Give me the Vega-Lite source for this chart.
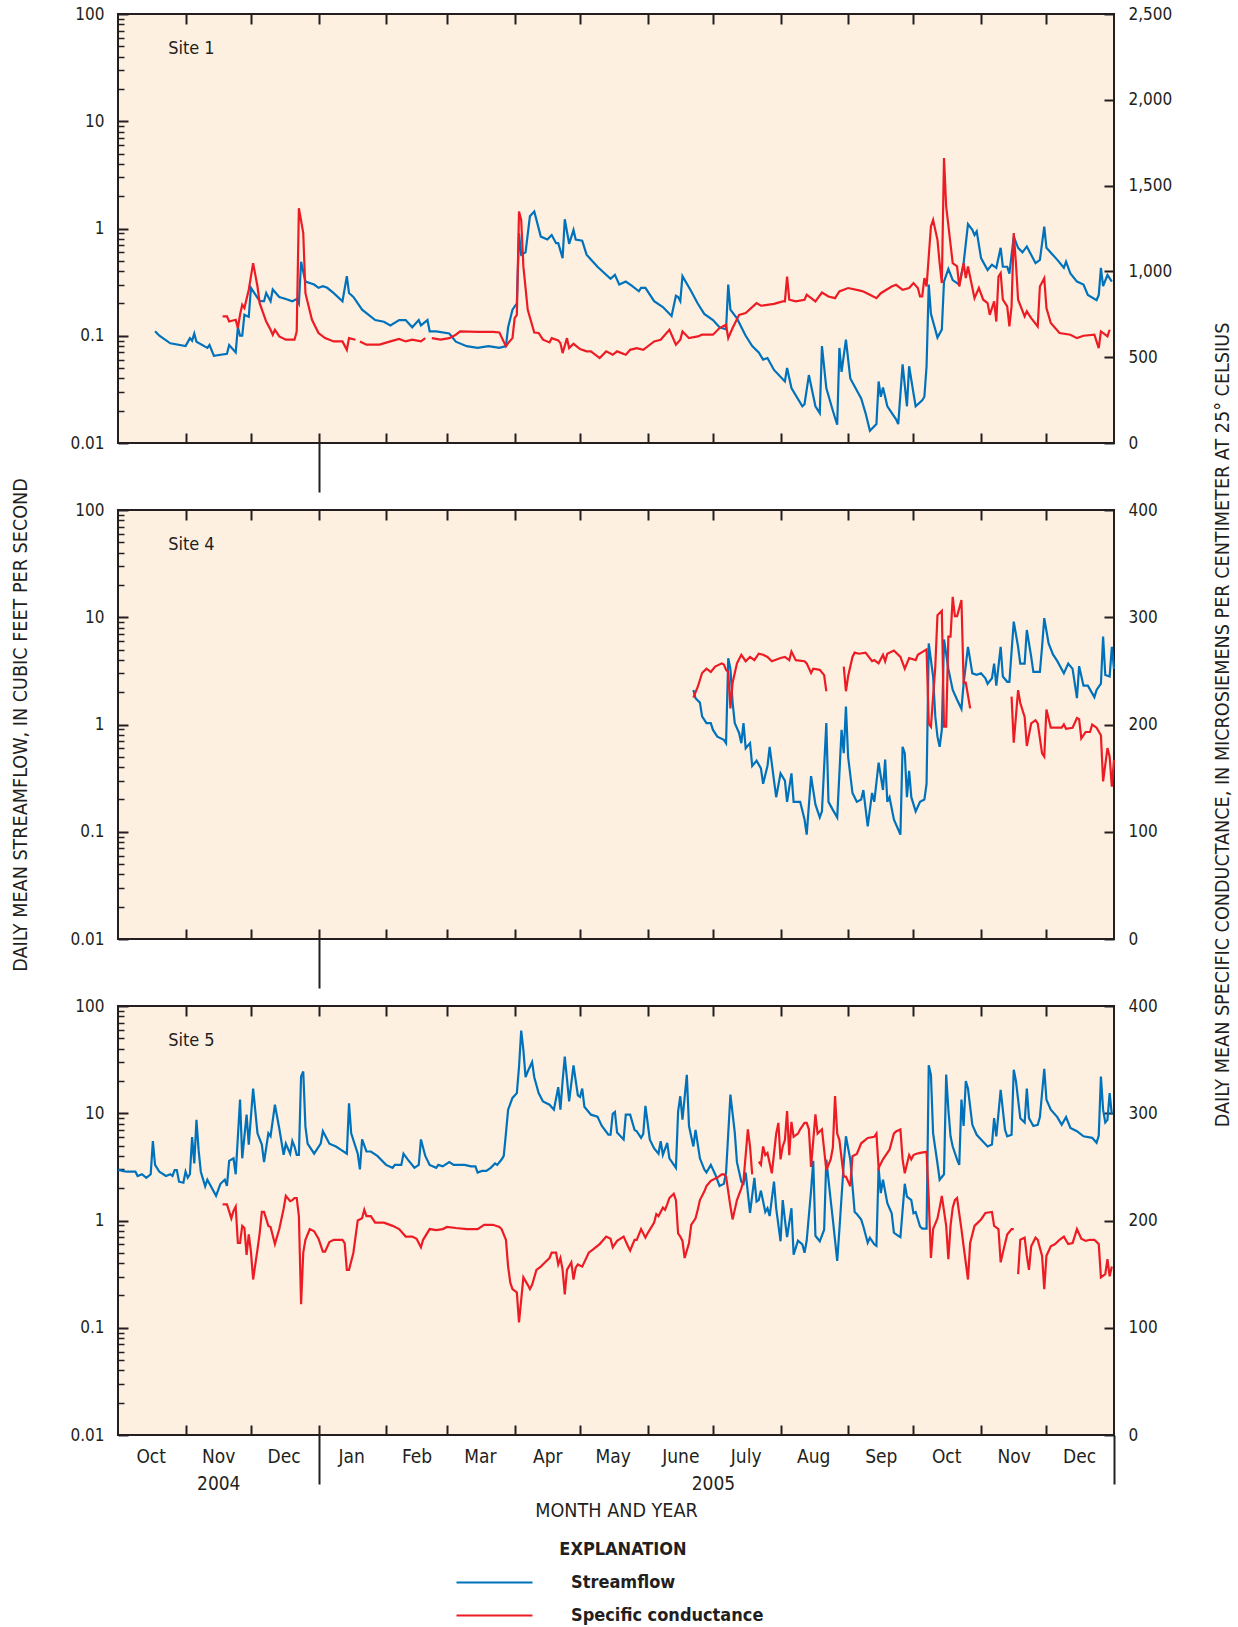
{
"$schema":"https://vega.github.io/schema/vega-lite/v6.json",
"background":"#ffffff",
"padding":{"left":8,"top":4,"right":4,"bottom":4},
"spacing":67,
"bounds":"flush",
"config":{
 "font":"Liberation Sans Narrow, DejaVu Sans Condensed, sans-serif",
 "view":{"fill":"#fdf0e0","stroke":"#231f20","strokeWidth":2},
 "axis":{"labelFont":"Liberation Sans Narrow, DejaVu Sans Condensed, sans-serif","labelFontSize":17,"labelColor":"#231f20","tickColor":"#231f20","tickWidth":2,"grid":false,"domain":false,"titleFont":"Liberation Sans Narrow, DejaVu Sans Condensed, sans-serif","titleFontSize":19.6,"titleFontWeight":"normal","titleColor":"#231f20","labelFlush":false,"labelOverlap":false},
 "legend":{"orient":"none","legendX":365,"legendY":1527,"direction":"vertical","symbolType":"M-3.8,0H3.8","symbolSize":400,"symbolStrokeWidth":2.4,"labelOffset":65,"labelFontSize":18,"labelFontWeight":"bold","labelFont":"Liberation Sans Narrow, DejaVu Sans Condensed, sans-serif","labelColor":"#231f20","titleFontSize":18,"titleFontWeight":"bold","titleFont":"Liberation Sans Narrow, DejaVu Sans Condensed, sans-serif","titleColor":"#231f20","titleAnchor":"middle","titlePadding":12,"rowPadding":12,"labelLimit":400},
 "line":{"strokeWidth":2.2},
 "text":{"font":"Liberation Sans Narrow, DejaVu Sans Condensed, sans-serif","fontSize":18,"color":"#231f20"}
},
"datasets":{
"site1_streamflow":[
{"date":"2004-10-18","value":0.11},{"date":"2004-10-20","value":0.1},{"date":"2004-10-25","value":0.085},{"date":"2004-11-01","value":0.08},{"date":"2004-11-03","value":0.095},{"date":"2004-11-04","value":0.09},{"date":"2004-11-05","value":0.105},{"date":"2004-11-06","value":0.088},{"date":"2004-11-11","value":0.077},{"date":"2004-11-12","value":0.082},{"date":"2004-11-14","value":0.065},{"date":"2004-11-20","value":0.068},{"date":"2004-11-21","value":0.082},{"date":"2004-11-24","value":0.07},{"date":"2004-11-25","value":0.12},{"date":"2004-11-26","value":0.1},{"date":"2004-11-27","value":0.1},{"date":"2004-11-28","value":0.157},{"date":"2004-11-30","value":0.15},{"date":"2004-12-01","value":0.28},{"date":"2004-12-05","value":0.21},{"date":"2004-12-07","value":0.21},{"date":"2004-12-08","value":0.25},{"date":"2004-12-10","value":0.21},{"date":"2004-12-11","value":0.27},{"date":"2004-12-14","value":0.23},{"date":"2004-12-17","value":0.22},{"date":"2004-12-20","value":0.21},{"date":"2004-12-22","value":0.22},{"date":"2004-12-23","value":0.2},{"date":"2004-12-24","value":0.49},{"date":"2004-12-26","value":0.32},{"date":"2004-12-30","value":0.3},{"date":"2005-01-01","value":0.28},{"date":"2005-01-03","value":0.29},{"date":"2005-01-05","value":0.28},{"date":"2005-01-08","value":0.25},{"date":"2005-01-12","value":0.21},{"date":"2005-01-14","value":0.36},{"date":"2005-01-15","value":0.25},{"date":"2005-01-17","value":0.23},{"date":"2005-01-21","value":0.175},{"date":"2005-01-27","value":0.14},{"date":"2005-01-31","value":0.135},{"date":"2005-02-03","value":0.125},{"date":"2005-02-07","value":0.14},{"date":"2005-02-10","value":0.14},{"date":"2005-02-13","value":0.12},{"date":"2005-02-16","value":0.14},{"date":"2005-02-17","value":0.125},{"date":"2005-02-20","value":0.14},{"date":"2005-02-21","value":0.11},{"date":"2005-02-24","value":0.11},{"date":"2005-03-02","value":0.105},{"date":"2005-03-05","value":0.088},{"date":"2005-03-10","value":0.08},{"date":"2005-03-15","value":0.077},{"date":"2005-03-20","value":0.08},{"date":"2005-03-25","value":0.077},{"date":"2005-03-28","value":0.08},{"date":"2005-03-29","value":0.12},{"date":"2005-03-31","value":0.175},{"date":"2005-04-02","value":0.2},{"date":"2005-04-03","value":0.9},{"date":"2005-04-04","value":0.57},{"date":"2005-04-06","value":0.6},{"date":"2005-04-08","value":1.3},{"date":"2005-04-10","value":1.44},{"date":"2005-04-13","value":0.84},{"date":"2005-04-16","value":0.79},{"date":"2005-04-18","value":0.87},{"date":"2005-04-20","value":0.73},{"date":"2005-04-21","value":0.73},{"date":"2005-04-23","value":0.53},{"date":"2005-04-24","value":1.22},{"date":"2005-04-26","value":0.72},{"date":"2005-04-28","value":0.97},{"date":"2005-04-29","value":0.79},{"date":"2005-05-02","value":0.77},{"date":"2005-05-04","value":0.57},{"date":"2005-05-09","value":0.44},{"date":"2005-05-15","value":0.34},{"date":"2005-05-17","value":0.37},{"date":"2005-05-19","value":0.3},{"date":"2005-05-22","value":0.32},{"date":"2005-05-25","value":0.29},{"date":"2005-05-28","value":0.26},{"date":"2005-05-29","value":0.28},{"date":"2005-05-31","value":0.28},{"date":"2005-06-04","value":0.21},{"date":"2005-06-08","value":0.185},{"date":"2005-06-12","value":0.153},{"date":"2005-06-14","value":0.236},{"date":"2005-06-15","value":0.23},{"date":"2005-06-16","value":0.21},{"date":"2005-06-17","value":0.36},{"date":"2005-06-21","value":0.26},{"date":"2005-06-24","value":0.2},{"date":"2005-06-27","value":0.16},{"date":"2005-07-01","value":0.14},{"date":"2005-07-04","value":0.12},{"date":"2005-07-07","value":0.115},{"date":"2005-07-08","value":0.3},{"date":"2005-07-09","value":0.175},{"date":"2005-07-12","value":0.145},{"date":"2005-07-16","value":0.1},{"date":"2005-07-19","value":0.08},{"date":"2005-07-22","value":0.07},{"date":"2005-07-24","value":0.06},{"date":"2005-07-26","value":0.062},{"date":"2005-07-29","value":0.048},{"date":"2005-08-03","value":0.0375},{"date":"2005-08-04","value":0.05},{"date":"2005-08-06","value":0.0325},{"date":"2005-08-11","value":0.022},{"date":"2005-08-12","value":0.023},{"date":"2005-08-14","value":0.043},{"date":"2005-08-17","value":0.022},{"date":"2005-08-19","value":0.019},{"date":"2005-08-20","value":0.08},{"date":"2005-08-22","value":0.0325},{"date":"2005-08-25","value":0.02},{"date":"2005-08-27","value":0.0148},{"date":"2005-08-28","value":0.077},{"date":"2005-08-29","value":0.046},{"date":"2005-08-31","value":0.092},{"date":"2005-09-02","value":0.04},{"date":"2005-09-07","value":0.026},{"date":"2005-09-09","value":0.019},{"date":"2005-09-11","value":0.013},{"date":"2005-09-14","value":0.015},{"date":"2005-09-15","value":0.0375},{"date":"2005-09-16","value":0.027},{"date":"2005-09-17","value":0.033},{"date":"2005-09-19","value":0.022},{"date":"2005-09-23","value":0.0166},{"date":"2005-09-24","value":0.015},{"date":"2005-09-26","value":0.054},{"date":"2005-09-28","value":0.022},{"date":"2005-09-29","value":0.052},{"date":"2005-10-01","value":0.029},{"date":"2005-10-02","value":0.022},{"date":"2005-10-05","value":0.025},{"date":"2005-10-06","value":0.027},{"date":"2005-10-07","value":0.052},{"date":"2005-10-08","value":0.3},{"date":"2005-10-09","value":0.16},{"date":"2005-10-11","value":0.114},{"date":"2005-10-12","value":0.096},{"date":"2005-10-14","value":0.114},{"date":"2005-10-15","value":0.32},{"date":"2005-10-17","value":0.42},{"date":"2005-10-19","value":0.33},{"date":"2005-10-22","value":0.3},{"date":"2005-10-24","value":0.475},{"date":"2005-10-26","value":1.1},{"date":"2005-10-28","value":0.97},{"date":"2005-10-29","value":0.87},{"date":"2005-10-30","value":0.94},{"date":"2005-11-01","value":0.53},{"date":"2005-11-04","value":0.41},{"date":"2005-11-06","value":0.46},{"date":"2005-11-08","value":0.43},{"date":"2005-11-10","value":0.66},{"date":"2005-11-11","value":0.44},{"date":"2005-11-13","value":0.44},{"date":"2005-11-14","value":0.38},{"date":"2005-11-16","value":0.84},{"date":"2005-11-18","value":0.66},{"date":"2005-11-20","value":0.6},{"date":"2005-11-22","value":0.68},{"date":"2005-11-26","value":0.475},{"date":"2005-11-28","value":0.51},{"date":"2005-11-30","value":1.04},{"date":"2005-12-01","value":0.66},{"date":"2005-12-06","value":0.51},{"date":"2005-12-09","value":0.43},{"date":"2005-12-10","value":0.49},{"date":"2005-12-12","value":0.38},{"date":"2005-12-15","value":0.32},{"date":"2005-12-18","value":0.3},{"date":"2005-12-20","value":0.24},{"date":"2005-12-24","value":0.215},{"date":"2005-12-25","value":0.24},{"date":"2005-12-26","value":0.43},{"date":"2005-12-27","value":0.29},{"date":"2005-12-29","value":0.37},{"date":"2005-12-31","value":0.32}
],
"site1_conductance":[
{"date":"2004-11-18","value":738},{"date":"2004-11-20","value":738},{"date":"2004-11-21","value":708},{"date":"2004-11-24","value":718},{"date":"2004-11-25","value":670},{"date":"2004-11-26","value":747},{"date":"2004-11-27","value":805},{"date":"2004-11-28","value":786},{"date":"2004-11-30","value":893},{"date":"2004-12-02","value":1048},{"date":"2004-12-04","value":912},{"date":"2004-12-05","value":815},{"date":"2004-12-08","value":708},{"date":"2004-12-10","value":660},{"date":"2004-12-11","value":631},{"date":"2004-12-12","value":660},{"date":"2004-12-14","value":621},{"date":"2004-12-17","value":602},{"date":"2004-12-19","value":602},{"date":"2004-12-21","value":602},{"date":"2004-12-22","value":650},{"date":"2004-12-23","value":1368},{"date":"2004-12-25","value":1223},{"date":"2004-12-26","value":873},{"date":"2004-12-29","value":718},{"date":"2005-01-01","value":641},{"date":"2005-01-04","value":611},{"date":"2005-01-08","value":592},{"date":"2005-01-12","value":592},{"date":"2005-01-14","value":543},{"date":"2005-01-15","value":611},{"date":"2005-01-18","value":602},{"date":"2005-01-19","value":null},{"date":"2005-01-20","value":592},{"date":"2005-01-23","value":573},{"date":"2005-01-29","value":573},{"date":"2005-02-03","value":592},{"date":"2005-02-07","value":606},{"date":"2005-02-10","value":592},{"date":"2005-02-13","value":602},{"date":"2005-02-17","value":592},{"date":"2005-02-19","value":611},{"date":"2005-02-20","value":null},{"date":"2005-02-22","value":611},{"date":"2005-02-26","value":602},{"date":"2005-03-02","value":611},{"date":"2005-03-05","value":631},{"date":"2005-03-07","value":650},{"date":"2005-03-15","value":648},{"date":"2005-03-22","value":648},{"date":"2005-03-25","value":644},{"date":"2005-03-28","value":563},{"date":"2005-03-29","value":582},{"date":"2005-03-31","value":611},{"date":"2005-04-01","value":728},{"date":"2005-04-02","value":747},{"date":"2005-04-03","value":1349},{"date":"2005-04-04","value":1300},{"date":"2005-04-05","value":1029},{"date":"2005-04-07","value":776},{"date":"2005-04-10","value":644},{"date":"2005-04-12","value":641},{"date":"2005-04-14","value":602},{"date":"2005-04-17","value":586},{"date":"2005-04-18","value":611},{"date":"2005-04-21","value":598},{"date":"2005-04-22","value":582},{"date":"2005-04-23","value":524},{"date":"2005-04-25","value":611},{"date":"2005-04-26","value":553},{"date":"2005-04-28","value":578},{"date":"2005-05-01","value":547},{"date":"2005-05-04","value":534},{"date":"2005-05-06","value":534},{"date":"2005-05-10","value":495},{"date":"2005-05-13","value":534},{"date":"2005-05-16","value":514},{"date":"2005-05-18","value":534},{"date":"2005-05-22","value":514},{"date":"2005-05-24","value":543},{"date":"2005-05-27","value":553},{"date":"2005-05-30","value":543},{"date":"2005-06-04","value":592},{"date":"2005-06-07","value":602},{"date":"2005-06-11","value":660},{"date":"2005-06-14","value":573},{"date":"2005-06-16","value":602},{"date":"2005-06-17","value":650},{"date":"2005-06-20","value":611},{"date":"2005-06-24","value":621},{"date":"2005-06-26","value":631},{"date":"2005-07-01","value":631},{"date":"2005-07-04","value":670},{"date":"2005-07-07","value":689},{"date":"2005-07-08","value":611},{"date":"2005-07-10","value":670},{"date":"2005-07-13","value":747},{"date":"2005-07-16","value":757},{"date":"2005-07-21","value":815},{"date":"2005-07-23","value":800},{"date":"2005-07-29","value":811},{"date":"2005-08-02","value":825},{"date":"2005-08-03","value":825},{"date":"2005-08-04","value":970},{"date":"2005-08-05","value":835},{"date":"2005-08-08","value":825},{"date":"2005-08-12","value":835},{"date":"2005-08-13","value":864},{"date":"2005-08-17","value":825},{"date":"2005-08-20","value":877},{"date":"2005-08-23","value":854},{"date":"2005-08-26","value":844},{"date":"2005-08-28","value":883},{"date":"2005-09-01","value":903},{"date":"2005-09-06","value":889},{"date":"2005-09-08","value":883},{"date":"2005-09-11","value":864},{"date":"2005-09-14","value":844},{"date":"2005-09-16","value":873},{"date":"2005-09-21","value":912},{"date":"2005-09-23","value":922},{"date":"2005-09-26","value":893},{"date":"2005-09-29","value":903},{"date":"2005-10-01","value":932},{"date":"2005-10-03","value":903},{"date":"2005-10-04","value":854},{"date":"2005-10-05","value":854},{"date":"2005-10-06","value":961},{"date":"2005-10-07","value":912},{"date":"2005-10-09","value":1262},{"date":"2005-10-10","value":1300},{"date":"2005-10-12","value":1184},{"date":"2005-10-13","value":1048},{"date":"2005-10-14","value":932},{"date":"2005-10-15","value":1660},{"date":"2005-10-16","value":1378},{"date":"2005-10-19","value":1048},{"date":"2005-10-21","value":1029},{"date":"2005-10-22","value":912},{"date":"2005-10-24","value":1048},{"date":"2005-10-25","value":961},{"date":"2005-10-26","value":1029},{"date":"2005-10-29","value":844},{"date":"2005-10-31","value":903},{"date":"2005-11-02","value":835},{"date":"2005-11-04","value":815},{"date":"2005-11-05","value":747},{"date":"2005-11-07","value":825},{"date":"2005-11-08","value":708},{"date":"2005-11-09","value":970},{"date":"2005-11-10","value":990},{"date":"2005-11-11","value":835},{"date":"2005-11-13","value":796},{"date":"2005-11-14","value":679},{"date":"2005-11-15","value":796},{"date":"2005-11-16","value":1223},{"date":"2005-11-17","value":1048},{"date":"2005-11-18","value":835},{"date":"2005-11-21","value":738},{"date":"2005-11-22","value":767},{"date":"2005-11-24","value":728},{"date":"2005-11-27","value":679},{"date":"2005-11-28","value":912},{"date":"2005-11-30","value":961},{"date":"2005-12-01","value":786},{"date":"2005-12-03","value":699},{"date":"2005-12-07","value":641},{"date":"2005-12-12","value":631},{"date":"2005-12-15","value":611},{"date":"2005-12-18","value":625},{"date":"2005-12-23","value":631},{"date":"2005-12-25","value":553},{"date":"2005-12-26","value":650},{"date":"2005-12-28","value":631},{"date":"2005-12-29","value":621},{"date":"2005-12-30","value":660}
],
"site4_streamflow":[
{"date":"2005-06-22","value":2.1},{"date":"2005-06-23","value":1.76},{"date":"2005-06-25","value":1.6},{"date":"2005-06-26","value":1.19},{"date":"2005-06-28","value":1.03},{"date":"2005-06-30","value":1.03},{"date":"2005-07-01","value":0.89},{"date":"2005-07-03","value":0.77},{"date":"2005-07-06","value":0.72},{"date":"2005-07-07","value":0.67},{"date":"2005-07-08","value":4.15},{"date":"2005-07-09","value":3.3},{"date":"2005-07-10","value":1.6},{"date":"2005-07-11","value":1.03},{"date":"2005-07-13","value":0.83},{"date":"2005-07-14","value":0.67},{"date":"2005-07-15","value":1.03},{"date":"2005-07-16","value":0.6},{"date":"2005-07-18","value":0.67},{"date":"2005-07-19","value":0.41},{"date":"2005-07-21","value":0.46},{"date":"2005-07-23","value":0.39},{"date":"2005-07-24","value":0.28},{"date":"2005-07-26","value":0.41},{"date":"2005-07-27","value":0.62},{"date":"2005-07-29","value":0.3},{"date":"2005-07-30","value":0.21},{"date":"2005-08-01","value":0.35},{"date":"2005-08-03","value":0.3},{"date":"2005-08-04","value":0.19},{"date":"2005-08-06","value":0.35},{"date":"2005-08-07","value":0.19},{"date":"2005-08-10","value":0.19},{"date":"2005-08-12","value":0.13},{"date":"2005-08-13","value":0.094},{"date":"2005-08-15","value":0.33},{"date":"2005-08-17","value":0.18},{"date":"2005-08-19","value":0.136},{"date":"2005-08-20","value":0.155},{"date":"2005-08-22","value":1.03},{"date":"2005-08-23","value":0.19},{"date":"2005-08-25","value":0.16},{"date":"2005-08-27","value":0.136},{"date":"2005-08-29","value":0.89},{"date":"2005-08-30","value":0.54},{"date":"2005-08-31","value":1.47},{"date":"2005-09-01","value":0.5},{"date":"2005-09-03","value":0.23},{"date":"2005-09-05","value":0.19},{"date":"2005-09-07","value":0.2},{"date":"2005-09-08","value":0.245},{"date":"2005-09-10","value":0.112},{"date":"2005-09-12","value":0.23},{"date":"2005-09-13","value":0.19},{"date":"2005-09-15","value":0.44},{"date":"2005-09-17","value":0.245},{"date":"2005-09-18","value":0.47},{"date":"2005-09-19","value":0.19},{"date":"2005-09-20","value":0.21},{"date":"2005-09-22","value":0.13},{"date":"2005-09-25","value":0.094},{"date":"2005-09-26","value":0.62},{"date":"2005-09-27","value":0.54},{"date":"2005-09-28","value":0.21},{"date":"2005-09-29","value":0.37},{"date":"2005-09-30","value":0.21},{"date":"2005-10-02","value":0.155},{"date":"2005-10-04","value":0.19},{"date":"2005-10-06","value":0.2},{"date":"2005-10-07","value":0.28},{"date":"2005-10-08","value":5.7},{"date":"2005-10-10","value":2.8},{"date":"2005-10-11","value":1.19},{"date":"2005-10-12","value":0.77},{"date":"2005-10-13","value":0.62},{"date":"2005-10-14","value":0.89},{"date":"2005-10-15","value":6.2},{"date":"2005-10-17","value":3.3},{"date":"2005-10-19","value":2.1},{"date":"2005-10-21","value":1.7},{"date":"2005-10-23","value":1.4},{"date":"2005-10-24","value":2.4},{"date":"2005-10-26","value":5.3},{"date":"2005-10-27","value":4.0},{"date":"2005-10-28","value":3.0},{"date":"2005-10-30","value":2.9},{"date":"2005-11-01","value":3.0},{"date":"2005-11-03","value":2.7},{"date":"2005-11-04","value":2.4},{"date":"2005-11-06","value":2.7},{"date":"2005-11-07","value":3.7},{"date":"2005-11-08","value":2.3},{"date":"2005-11-10","value":5.3},{"date":"2005-11-11","value":2.8},{"date":"2005-11-13","value":2.5},{"date":"2005-11-14","value":2.5},{"date":"2005-11-16","value":9.1},{"date":"2005-11-18","value":5.3},{"date":"2005-11-19","value":3.7},{"date":"2005-11-21","value":3.7},{"date":"2005-11-22","value":7.6},{"date":"2005-11-24","value":4.3},{"date":"2005-11-25","value":3.1},{"date":"2005-11-28","value":3.1},{"date":"2005-11-29","value":5.3},{"date":"2005-11-30","value":9.8},{"date":"2005-12-02","value":5.7},{"date":"2005-12-04","value":4.5},{"date":"2005-12-06","value":3.9},{"date":"2005-12-09","value":3.0},{"date":"2005-12-11","value":3.7},{"date":"2005-12-13","value":3.3},{"date":"2005-12-15","value":1.76},{"date":"2005-12-16","value":3.5},{"date":"2005-12-18","value":2.3},{"date":"2005-12-20","value":2.3},{"date":"2005-12-23","value":1.8},{"date":"2005-12-24","value":2.1},{"date":"2005-12-26","value":2.4},{"date":"2005-12-27","value":6.6},{"date":"2005-12-28","value":2.9},{"date":"2005-12-30","value":2.8},{"date":"2005-12-31","value":5.3},{"date":"2006-01-01","value":3.3}
],
"site4_conductance":[
{"date":"2005-06-22","value":225},{"date":"2005-06-24","value":235},{"date":"2005-06-26","value":248},{"date":"2005-06-28","value":252},{"date":"2005-06-30","value":249},{"date":"2005-07-02","value":254},{"date":"2005-07-05","value":257},{"date":"2005-07-06","value":256},{"date":"2005-07-07","value":251},{"date":"2005-07-08","value":249},{"date":"2005-07-09","value":215},{"date":"2005-07-10","value":239},{"date":"2005-07-12","value":257},{"date":"2005-07-14","value":265},{"date":"2005-07-16","value":259},{"date":"2005-07-18","value":263},{"date":"2005-07-20","value":260},{"date":"2005-07-22","value":266},{"date":"2005-07-24","value":265},{"date":"2005-07-26","value":263},{"date":"2005-07-28","value":259},{"date":"2005-08-01","value":262},{"date":"2005-08-03","value":263},{"date":"2005-08-05","value":260},{"date":"2005-08-06","value":268},{"date":"2005-08-08","value":260},{"date":"2005-08-12","value":259},{"date":"2005-08-13","value":257},{"date":"2005-08-15","value":248},{"date":"2005-08-16","value":252},{"date":"2005-08-19","value":251},{"date":"2005-08-21","value":246},{"date":"2005-08-22","value":231},{"date":"2005-08-25","value":null},{"date":"2005-08-30","value":254},{"date":"2005-08-31","value":231},{"date":"2005-09-01","value":245},{"date":"2005-09-03","value":263},{"date":"2005-09-04","value":267},{"date":"2005-09-06","value":266},{"date":"2005-09-09","value":267},{"date":"2005-09-12","value":259},{"date":"2005-09-13","value":260},{"date":"2005-09-15","value":257},{"date":"2005-09-17","value":265},{"date":"2005-09-18","value":259},{"date":"2005-09-19","value":266},{"date":"2005-09-22","value":269},{"date":"2005-09-25","value":263},{"date":"2005-09-27","value":252},{"date":"2005-09-29","value":262},{"date":"2005-10-02","value":260},{"date":"2005-10-03","value":265},{"date":"2005-10-07","value":270},{"date":"2005-10-08","value":201},{"date":"2005-10-09","value":198},{"date":"2005-10-11","value":254},{"date":"2005-10-12","value":302},{"date":"2005-10-14","value":306},{"date":"2005-10-15","value":198},{"date":"2005-10-16","value":198},{"date":"2005-10-17","value":282},{"date":"2005-10-18","value":282},{"date":"2005-10-19","value":319},{"date":"2005-10-20","value":301},{"date":"2005-10-21","value":301},{"date":"2005-10-23","value":316},{"date":"2005-10-24","value":239},{"date":"2005-10-25","value":239},{"date":"2005-10-27","value":215},{"date":"2005-10-29","value":null},{"date":"2005-11-15","value":226},{"date":"2005-11-16","value":183},{"date":"2005-11-18","value":232},{"date":"2005-11-19","value":220},{"date":"2005-11-21","value":207},{"date":"2005-11-22","value":180},{"date":"2005-11-24","value":201},{"date":"2005-11-26","value":204},{"date":"2005-11-27","value":201},{"date":"2005-11-29","value":173},{"date":"2005-11-30","value":170},{"date":"2005-12-01","value":214},{"date":"2005-12-03","value":197},{"date":"2005-12-05","value":197},{"date":"2005-12-08","value":197},{"date":"2005-12-09","value":200},{"date":"2005-12-10","value":196},{"date":"2005-12-13","value":197},{"date":"2005-12-15","value":206},{"date":"2005-12-16","value":205},{"date":"2005-12-17","value":187},{"date":"2005-12-19","value":193},{"date":"2005-12-21","value":193},{"date":"2005-12-22","value":200},{"date":"2005-12-24","value":197},{"date":"2005-12-26","value":190},{"date":"2005-12-27","value":147},{"date":"2005-12-29","value":178},{"date":"2005-12-30","value":170},{"date":"2005-12-31","value":142},{"date":"2006-01-01","value":167}
],
"site5_streamflow":[
{"date":"2004-10-01","value":2.98},{"date":"2004-10-03","value":2.9},{"date":"2004-10-05","value":2.85},{"date":"2004-10-09","value":2.85},{"date":"2004-10-10","value":2.6},{"date":"2004-10-12","value":2.7},{"date":"2004-10-14","value":2.5},{"date":"2004-10-16","value":2.7},{"date":"2004-10-17","value":5.5},{"date":"2004-10-18","value":3.3},{"date":"2004-10-20","value":2.85},{"date":"2004-10-23","value":2.6},{"date":"2004-10-25","value":2.7},{"date":"2004-10-26","value":2.6},{"date":"2004-10-27","value":2.95},{"date":"2004-10-28","value":2.95},{"date":"2004-10-29","value":2.3},{"date":"2004-10-31","value":2.25},{"date":"2004-11-01","value":2.85},{"date":"2004-11-02","value":2.5},{"date":"2004-11-03","value":2.7},{"date":"2004-11-04","value":6.0},{"date":"2004-11-05","value":3.4},{"date":"2004-11-06","value":8.7},{"date":"2004-11-07","value":4.5},{"date":"2004-11-08","value":2.85},{"date":"2004-11-10","value":2.08},{"date":"2004-11-11","value":2.4},{"date":"2004-11-12","value":2.2},{"date":"2004-11-15","value":1.7},{"date":"2004-11-17","value":2.2},{"date":"2004-11-19","value":2.4},{"date":"2004-11-20","value":2.1},{"date":"2004-11-21","value":3.6},{"date":"2004-11-23","value":3.8},{"date":"2004-11-24","value":2.7},{"date":"2004-11-26","value":13.4},{"date":"2004-11-27","value":3.8},{"date":"2004-11-29","value":9.7},{"date":"2004-11-30","value":5.1},{"date":"2004-12-02","value":17},{"date":"2004-12-04","value":6.5},{"date":"2004-12-06","value":5.1},{"date":"2004-12-07","value":3.5},{"date":"2004-12-09","value":6.5},{"date":"2004-12-10","value":6.1},{"date":"2004-12-12","value":12},{"date":"2004-12-14","value":7.2},{"date":"2004-12-16","value":4.1},{"date":"2004-12-17","value":5.2},{"date":"2004-12-19","value":4.2},{"date":"2004-12-20","value":5.5},{"date":"2004-12-21","value":4.9},{"date":"2004-12-22","value":4.1},{"date":"2004-12-23","value":4.1},{"date":"2004-12-24","value":22},{"date":"2004-12-25","value":24.5},{"date":"2004-12-26","value":7.5},{"date":"2004-12-27","value":5.2},{"date":"2004-12-30","value":4.2},{"date":"2005-01-02","value":5.2},{"date":"2005-01-03","value":6.8},{"date":"2005-01-06","value":5.2},{"date":"2005-01-09","value":4.9},{"date":"2005-01-11","value":4.6},{"date":"2005-01-14","value":4.2},{"date":"2005-01-15","value":12.4},{"date":"2005-01-16","value":6.5},{"date":"2005-01-19","value":4.2},{"date":"2005-01-20","value":3.0},{"date":"2005-01-21","value":5.7},{"date":"2005-01-23","value":4.4},{"date":"2005-01-25","value":4.4},{"date":"2005-01-28","value":4.0},{"date":"2005-02-01","value":3.3},{"date":"2005-02-04","value":3.1},{"date":"2005-02-05","value":3.3},{"date":"2005-02-08","value":3.3},{"date":"2005-02-09","value":4.2},{"date":"2005-02-11","value":3.7},{"date":"2005-02-14","value":3.1},{"date":"2005-02-16","value":3.3},{"date":"2005-02-17","value":5.7},{"date":"2005-02-19","value":4.0},{"date":"2005-02-21","value":3.3},{"date":"2005-02-24","value":3.1},{"date":"2005-02-25","value":3.3},{"date":"2005-02-27","value":3.2},{"date":"2005-03-02","value":3.5},{"date":"2005-03-04","value":3.3},{"date":"2005-03-06","value":3.3},{"date":"2005-03-09","value":3.3},{"date":"2005-03-12","value":3.2},{"date":"2005-03-14","value":3.2},{"date":"2005-03-15","value":2.8},{"date":"2005-03-17","value":2.9},{"date":"2005-03-19","value":2.9},{"date":"2005-03-21","value":3.1},{"date":"2005-03-23","value":3.4},{"date":"2005-03-24","value":3.3},{"date":"2005-03-26","value":3.7},{"date":"2005-03-27","value":4.0},{"date":"2005-03-28","value":6.5},{"date":"2005-03-29","value":10.8},{"date":"2005-03-31","value":13.9},{"date":"2005-04-02","value":15.4},{"date":"2005-04-03","value":27},{"date":"2005-04-04","value":59},{"date":"2005-04-05","value":39},{"date":"2005-04-06","value":21.7},{"date":"2005-04-07","value":24.5},{"date":"2005-04-09","value":30},{"date":"2005-04-10","value":21.7},{"date":"2005-04-12","value":15.4},{"date":"2005-04-14","value":12.9},{"date":"2005-04-17","value":12},{"date":"2005-04-19","value":10.8},{"date":"2005-04-21","value":17.5},{"date":"2005-04-22","value":10.8},{"date":"2005-04-23","value":20},{"date":"2005-04-24","value":33.8},{"date":"2005-04-26","value":12.9},{"date":"2005-04-28","value":28},{"date":"2005-04-30","value":14.7},{"date":"2005-05-01","value":14.2},{"date":"2005-05-02","value":17},{"date":"2005-05-03","value":11.5},{"date":"2005-05-06","value":9.7},{"date":"2005-05-09","value":9.3},{"date":"2005-05-11","value":7.6},{"date":"2005-05-14","value":6.3},{"date":"2005-05-15","value":6.3},{"date":"2005-05-16","value":9.9},{"date":"2005-05-17","value":10.3},{"date":"2005-05-18","value":6.6},{"date":"2005-05-21","value":5.7},{"date":"2005-05-22","value":9.7},{"date":"2005-05-24","value":9.7},{"date":"2005-05-26","value":7.0},{"date":"2005-05-27","value":6.8},{"date":"2005-05-29","value":5.9},{"date":"2005-05-30","value":6.4},{"date":"2005-05-31","value":11.7},{"date":"2005-06-02","value":5.7},{"date":"2005-06-04","value":4.7},{"date":"2005-06-06","value":4.2},{"date":"2005-06-07","value":5.5},{"date":"2005-06-08","value":4.1},{"date":"2005-06-10","value":5.3},{"date":"2005-06-11","value":3.8},{"date":"2005-06-14","value":3.1},{"date":"2005-06-15","value":10.4},{"date":"2005-06-16","value":14.4},{"date":"2005-06-17","value":8.7},{"date":"2005-06-19","value":22.8},{"date":"2005-06-20","value":7.6},{"date":"2005-06-22","value":4.9},{"date":"2005-06-23","value":7.0},{"date":"2005-06-25","value":3.8},{"date":"2005-06-27","value":3.0},{"date":"2005-06-28","value":2.8},{"date":"2005-06-30","value":3.3},{"date":"2005-07-02","value":2.7},{"date":"2005-07-04","value":2.1},{"date":"2005-07-06","value":2.2},{"date":"2005-07-07","value":2.8},{"date":"2005-07-09","value":14.9},{"date":"2005-07-11","value":6.6},{"date":"2005-07-12","value":3.5},{"date":"2005-07-14","value":2.3},{"date":"2005-07-15","value":2.2},{"date":"2005-07-16","value":2.8},{"date":"2005-07-18","value":1.18},{"date":"2005-07-20","value":2.5},{"date":"2005-07-21","value":1.5},{"date":"2005-07-22","value":1.55},{"date":"2005-07-23","value":1.9},{"date":"2005-07-25","value":1.2},{"date":"2005-07-26","value":1.3},{"date":"2005-07-27","value":1.1},{"date":"2005-07-29","value":2.3},{"date":"2005-07-30","value":1.3},{"date":"2005-08-01","value":0.64},{"date":"2005-08-02","value":1.55},{"date":"2005-08-03","value":1.02},{"date":"2005-08-04","value":0.7},{"date":"2005-08-06","value":1.3},{"date":"2005-08-07","value":0.48},{"date":"2005-08-09","value":0.65},{"date":"2005-08-11","value":0.6},{"date":"2005-08-12","value":0.5},{"date":"2005-08-13","value":0.65},{"date":"2005-08-15","value":1.9},{"date":"2005-08-16","value":3.6},{"date":"2005-08-17","value":0.72},{"date":"2005-08-19","value":0.64},{"date":"2005-08-21","value":0.82},{"date":"2005-08-22","value":3.7},{"date":"2005-08-24","value":1.55},{"date":"2005-08-25","value":1.02},{"date":"2005-08-27","value":0.42},{"date":"2005-08-28","value":0.82},{"date":"2005-08-30","value":3.4},{"date":"2005-08-31","value":6.1},{"date":"2005-09-02","value":3.7},{"date":"2005-09-04","value":1.2},{"date":"2005-09-05","value":1.15},{"date":"2005-09-07","value":1.02},{"date":"2005-09-08","value":0.88},{"date":"2005-09-10","value":0.62},{"date":"2005-09-11","value":0.69},{"date":"2005-09-13","value":0.6},{"date":"2005-09-14","value":0.58},{"date":"2005-09-15","value":3.1},{"date":"2005-09-16","value":1.8},{"date":"2005-09-17","value":2.4},{"date":"2005-09-19","value":1.45},{"date":"2005-09-21","value":1.17},{"date":"2005-09-22","value":0.77},{"date":"2005-09-24","value":0.72},{"date":"2005-09-25","value":0.7},{"date":"2005-09-27","value":2.2},{"date":"2005-09-28","value":1.67},{"date":"2005-09-30","value":1.55},{"date":"2005-10-01","value":1.17},{"date":"2005-10-02","value":1.2},{"date":"2005-10-04","value":0.88},{"date":"2005-10-05","value":0.84},{"date":"2005-10-07","value":0.84},{"date":"2005-10-08","value":28},{"date":"2005-10-09","value":22.8},{"date":"2005-10-10","value":6.5},{"date":"2005-10-12","value":3.4},{"date":"2005-10-13","value":2.4},{"date":"2005-10-15","value":2.7},{"date":"2005-10-16","value":23},{"date":"2005-10-17","value":10.8},{"date":"2005-10-18","value":6.1},{"date":"2005-10-19","value":4.9},{"date":"2005-10-21","value":3.7},{"date":"2005-10-22","value":3.3},{"date":"2005-10-23","value":13.4},{"date":"2005-10-24","value":7.6},{"date":"2005-10-25","value":20},{"date":"2005-10-26","value":17},{"date":"2005-10-28","value":7.8},{"date":"2005-10-30","value":6.3},{"date":"2005-11-01","value":5.7},{"date":"2005-11-04","value":4.9},{"date":"2005-11-06","value":5.1},{"date":"2005-11-07","value":9.0},{"date":"2005-11-08","value":6.1},{"date":"2005-11-10","value":16.5},{"date":"2005-11-12","value":7.0},{"date":"2005-11-13","value":6.1},{"date":"2005-11-15","value":6.3},{"date":"2005-11-16","value":25.4},{"date":"2005-11-17","value":20},{"date":"2005-11-19","value":9.0},{"date":"2005-11-21","value":8.2},{"date":"2005-11-22","value":17},{"date":"2005-11-23","value":9.0},{"date":"2005-11-25","value":7.6},{"date":"2005-11-27","value":7.8},{"date":"2005-11-28","value":9.2},{"date":"2005-11-30","value":26},{"date":"2005-12-01","value":13.4},{"date":"2005-12-03","value":10.8},{"date":"2005-12-06","value":9.2},{"date":"2005-12-08","value":7.8},{"date":"2005-12-10","value":9.2},{"date":"2005-12-12","value":7.3},{"date":"2005-12-15","value":6.8},{"date":"2005-12-18","value":6.1},{"date":"2005-12-22","value":5.9},{"date":"2005-12-24","value":5.3},{"date":"2005-12-25","value":6.2},{"date":"2005-12-26","value":22},{"date":"2005-12-27","value":10.8},{"date":"2005-12-28","value":8.2},{"date":"2005-12-29","value":8.7},{"date":"2005-12-30","value":15.4},{"date":"2005-12-31","value":9.7}
],
"site5_conductance":[
{"date":"2004-11-18","value":215},{"date":"2004-11-20","value":215},{"date":"2004-11-22","value":202},{"date":"2004-11-23","value":209},{"date":"2004-11-24","value":213},{"date":"2004-11-25","value":179},{"date":"2004-11-26","value":179},{"date":"2004-11-27","value":195},{"date":"2004-11-28","value":193},{"date":"2004-11-29","value":168},{"date":"2004-11-30","value":187},{"date":"2004-12-01","value":171},{"date":"2004-12-02","value":145},{"date":"2004-12-04","value":173},{"date":"2004-12-05","value":188},{"date":"2004-12-06","value":208},{"date":"2004-12-07","value":208},{"date":"2004-12-09","value":195},{"date":"2004-12-10","value":194},{"date":"2004-12-12","value":178},{"date":"2004-12-14","value":192},{"date":"2004-12-16","value":211},{"date":"2004-12-17","value":223},{"date":"2004-12-19","value":218},{"date":"2004-12-20","value":219},{"date":"2004-12-21","value":221},{"date":"2004-12-22","value":221},{"date":"2004-12-23","value":204},{"date":"2004-12-24","value":122},{"date":"2004-12-25","value":170},{"date":"2004-12-26","value":182},{"date":"2004-12-28","value":192},{"date":"2004-12-30","value":190},{"date":"2005-01-01","value":183},{"date":"2005-01-03","value":171},{"date":"2005-01-04","value":171},{"date":"2005-01-06","value":180},{"date":"2005-01-08","value":182},{"date":"2005-01-12","value":182},{"date":"2005-01-13","value":179},{"date":"2005-01-14","value":154},{"date":"2005-01-15","value":154},{"date":"2005-01-17","value":170},{"date":"2005-01-18","value":185},{"date":"2005-01-19","value":200},{"date":"2005-01-21","value":202},{"date":"2005-01-22","value":210},{"date":"2005-01-23","value":204},{"date":"2005-01-25","value":204},{"date":"2005-01-27","value":198},{"date":"2005-01-31","value":198},{"date":"2005-02-04","value":195},{"date":"2005-02-07","value":192},{"date":"2005-02-10","value":185},{"date":"2005-02-13","value":185},{"date":"2005-02-15","value":183},{"date":"2005-02-17","value":175},{"date":"2005-02-18","value":182},{"date":"2005-02-21","value":192},{"date":"2005-02-24","value":191},{"date":"2005-02-27","value":192},{"date":"2005-03-01","value":194},{"date":"2005-03-05","value":193},{"date":"2005-03-10","value":192},{"date":"2005-03-15","value":192},{"date":"2005-03-18","value":196},{"date":"2005-03-22","value":196},{"date":"2005-03-25","value":194},{"date":"2005-03-26","value":192},{"date":"2005-03-28","value":182},{"date":"2005-03-29","value":157},{"date":"2005-03-30","value":142},{"date":"2005-03-31","value":136},{"date":"2005-04-02","value":133},{"date":"2005-04-03","value":105},{"date":"2005-04-04","value":126},{"date":"2005-04-05","value":147},{"date":"2005-04-07","value":140},{"date":"2005-04-08","value":136},{"date":"2005-04-09","value":140},{"date":"2005-04-11","value":154},{"date":"2005-04-13","value":157},{"date":"2005-04-15","value":161},{"date":"2005-04-17","value":165},{"date":"2005-04-18","value":170},{"date":"2005-04-20","value":170},{"date":"2005-04-21","value":159},{"date":"2005-04-22","value":165},{"date":"2005-04-23","value":154},{"date":"2005-04-24","value":131},{"date":"2005-04-25","value":154},{"date":"2005-04-27","value":161},{"date":"2005-04-28","value":145},{"date":"2005-04-29","value":156},{"date":"2005-04-30","value":159},{"date":"2005-05-02","value":157},{"date":"2005-05-05","value":170},{"date":"2005-05-07","value":173},{"date":"2005-05-10","value":178},{"date":"2005-05-13","value":185},{"date":"2005-05-15","value":183},{"date":"2005-05-16","value":175},{"date":"2005-05-18","value":181},{"date":"2005-05-21","value":185},{"date":"2005-05-23","value":176},{"date":"2005-05-24","value":172},{"date":"2005-05-26","value":182},{"date":"2005-05-27","value":182},{"date":"2005-05-29","value":192},{"date":"2005-05-31","value":184},{"date":"2005-06-01","value":188},{"date":"2005-06-04","value":198},{"date":"2005-06-05","value":206},{"date":"2005-06-06","value":204},{"date":"2005-06-08","value":212},{"date":"2005-06-09","value":210},{"date":"2005-06-10","value":215},{"date":"2005-06-11","value":221},{"date":"2005-06-13","value":225},{"date":"2005-06-14","value":219},{"date":"2005-06-15","value":188},{"date":"2005-06-16","value":185},{"date":"2005-06-17","value":181},{"date":"2005-06-18","value":165},{"date":"2005-06-20","value":179},{"date":"2005-06-21","value":196},{"date":"2005-06-23","value":202},{"date":"2005-06-24","value":210},{"date":"2005-06-25","value":219},{"date":"2005-06-27","value":227},{"date":"2005-06-28","value":232},{"date":"2005-06-30","value":237},{"date":"2005-07-03","value":240},{"date":"2005-07-05","value":243},{"date":"2005-07-06","value":243},{"date":"2005-07-07","value":241},{"date":"2005-07-09","value":213},{"date":"2005-07-10","value":201},{"date":"2005-07-12","value":219},{"date":"2005-07-14","value":230},{"date":"2005-07-15","value":237},{"date":"2005-07-17","value":285},{"date":"2005-07-18","value":269},{"date":"2005-07-19","value":243},{"date":"2005-07-20","value":null},{"date":"2005-07-22","value":255},{"date":"2005-07-23","value":252},{"date":"2005-07-24","value":269},{"date":"2005-07-25","value":261},{"date":"2005-07-26","value":263},{"date":"2005-07-28","value":244},{"date":"2005-07-30","value":281},{"date":"2005-07-31","value":291},{"date":"2005-08-01","value":257},{"date":"2005-08-02","value":269},{"date":"2005-08-03","value":275},{"date":"2005-08-04","value":302},{"date":"2005-08-05","value":261},{"date":"2005-08-06","value":292},{"date":"2005-08-07","value":278},{"date":"2005-08-09","value":281},{"date":"2005-08-10","value":285},{"date":"2005-08-12","value":291},{"date":"2005-08-13","value":291},{"date":"2005-08-14","value":285},{"date":"2005-08-15","value":250},{"date":"2005-08-17","value":299},{"date":"2005-08-18","value":281},{"date":"2005-08-20","value":285},{"date":"2005-08-22","value":247},{"date":"2005-08-24","value":257},{"date":"2005-08-25","value":268},{"date":"2005-08-26","value":316},{"date":"2005-08-27","value":281},{"date":"2005-08-28","value":275},{"date":"2005-08-30","value":241},{"date":"2005-08-31","value":241},{"date":"2005-09-02","value":232},{"date":"2005-09-03","value":260},{"date":"2005-09-05","value":262},{"date":"2005-09-07","value":272},{"date":"2005-09-10","value":277},{"date":"2005-09-13","value":278},{"date":"2005-09-14","value":281},{"date":"2005-09-15","value":249},{"date":"2005-09-17","value":257},{"date":"2005-09-19","value":263},{"date":"2005-09-20","value":266},{"date":"2005-09-22","value":281},{"date":"2005-09-23","value":283},{"date":"2005-09-25","value":285},{"date":"2005-09-26","value":257},{"date":"2005-09-27","value":244},{"date":"2005-09-29","value":261},{"date":"2005-09-30","value":257},{"date":"2005-10-01","value":261},{"date":"2005-10-02","value":262},{"date":"2005-10-04","value":263},{"date":"2005-10-07","value":264},{"date":"2005-10-08","value":220},{"date":"2005-10-09","value":165},{"date":"2005-10-10","value":192},{"date":"2005-10-12","value":202},{"date":"2005-10-13","value":212},{"date":"2005-10-14","value":223},{"date":"2005-10-16","value":195},{"date":"2005-10-17","value":164},{"date":"2005-10-18","value":195},{"date":"2005-10-19","value":212},{"date":"2005-10-20","value":219},{"date":"2005-10-21","value":221},{"date":"2005-10-23","value":192},{"date":"2005-10-24","value":176},{"date":"2005-10-26","value":145},{"date":"2005-10-27","value":179},{"date":"2005-10-29","value":195},{"date":"2005-11-01","value":201},{"date":"2005-11-03","value":207},{"date":"2005-11-06","value":208},{"date":"2005-11-07","value":195},{"date":"2005-11-09","value":192},{"date":"2005-11-10","value":161},{"date":"2005-11-11","value":170},{"date":"2005-11-13","value":187},{"date":"2005-11-15","value":192},{"date":"2005-11-16","value":192},{"date":"2005-11-17","value":null},{"date":"2005-11-18","value":150},{"date":"2005-11-19","value":182},{"date":"2005-11-21","value":184},{"date":"2005-11-22","value":167},{"date":"2005-11-23","value":154},{"date":"2005-11-24","value":176},{"date":"2005-11-26","value":184},{"date":"2005-11-27","value":182},{"date":"2005-11-29","value":167},{"date":"2005-11-30","value":136},{"date":"2005-12-01","value":167},{"date":"2005-12-03","value":176},{"date":"2005-12-05","value":178},{"date":"2005-12-07","value":182},{"date":"2005-12-09","value":185},{"date":"2005-12-11","value":178},{"date":"2005-12-13","value":179},{"date":"2005-12-15","value":192},{"date":"2005-12-17","value":183},{"date":"2005-12-19","value":181},{"date":"2005-12-21","value":182},{"date":"2005-12-23","value":182},{"date":"2005-12-25","value":178},{"date":"2005-12-26","value":147},{"date":"2005-12-28","value":150},{"date":"2005-12-29","value":164},{"date":"2005-12-30","value":148},{"date":"2005-12-31","value":157}
]
},
"vconcat":[
{
 "width":996,"height":429,
 "layer":[
  {"data":{"name":"site1_streamflow"},"mark":{"type":"line","strokeWidth":2.2},
   "encoding":{
    "x":{"field":"date","type":"temporal","scale":{"type":"utc","domain":[{"year":2004,"month":10,"date":1,"utc":true},{"year":2006,"month":1,"date":1,"utc":true}]},
      "axis":{"orient":"bottom","title":null,"labels":false,"tickSize":-10,"values":[{"year":2004,"month":11,"date":1,"utc":true},{"year":2004,"month":12,"date":1,"utc":true},{"year":2005,"month":1,"date":1,"utc":true},{"year":2005,"month":2,"date":1,"utc":true},{"year":2005,"month":3,"date":1,"utc":true},{"year":2005,"month":4,"date":1,"utc":true},{"year":2005,"month":5,"date":1,"utc":true},{"year":2005,"month":6,"date":1,"utc":true},{"year":2005,"month":7,"date":1,"utc":true},{"year":2005,"month":8,"date":1,"utc":true},{"year":2005,"month":9,"date":1,"utc":true},{"year":2005,"month":10,"date":1,"utc":true},{"year":2005,"month":11,"date":1,"utc":true},{"year":2005,"month":12,"date":1,"utc":true}]}},
    "y":{"field":"value","type":"quantitative","scale":{"type":"log","domain":[0.01,100],"nice":false},"axis":{"orient":"left","title":null,"ticks":false,"labelPadding":14,"values":[0.01,0.1,1,10,100],"format":"~g"}},
    "color":{"datum":"Streamflow","type":"nominal","scale":{"domain":["Streamflow","Specific conductance"],"range":["#0072bc","#ed1c24"]},"legend":{"title":"EXPLANATION"}}
   }},
  {"data":{"name":"site1_conductance"},"mark":{"type":"line","strokeWidth":2.2},
   "encoding":{
    "x":{"field":"date","type":"temporal","scale":{"type":"utc","domain":[{"year":2004,"month":10,"date":1,"utc":true},{"year":2006,"month":1,"date":1,"utc":true}]},
      "axis":{"orient":"top","title":null,"labels":false,"tickSize":-10,"values":[{"year":2004,"month":11,"date":1,"utc":true},{"year":2004,"month":12,"date":1,"utc":true},{"year":2005,"month":1,"date":1,"utc":true},{"year":2005,"month":2,"date":1,"utc":true},{"year":2005,"month":3,"date":1,"utc":true},{"year":2005,"month":4,"date":1,"utc":true},{"year":2005,"month":5,"date":1,"utc":true},{"year":2005,"month":6,"date":1,"utc":true},{"year":2005,"month":7,"date":1,"utc":true},{"year":2005,"month":8,"date":1,"utc":true},{"year":2005,"month":9,"date":1,"utc":true},{"year":2005,"month":10,"date":1,"utc":true},{"year":2005,"month":11,"date":1,"utc":true},{"year":2005,"month":12,"date":1,"utc":true}]}},
    "y":{"field":"value","type":"quantitative","scale":{"type":"linear","domain":[0,2500],"nice":false,"zero":false},"axis":{"orient":"right","title":null,"ticks":false,"labelPadding":14,"values":[0,500,1000,1500,2000,2500],"format":",d"}},
    "color":{"datum":"Specific conductance","type":"nominal","scale":{"domain":["Streamflow","Specific conductance"],"range":["#0072bc","#ed1c24"]},"legend":{"title":"EXPLANATION"}}
   }},
  {"data":{"values":[{"site":"Site 1"}]},"mark":{"type":"text","align":"left","baseline":"alphabetic"},
   "encoding":{
    "x":{"datum":{"year":2004,"month":10,"date":24,"utc":true},"type":"temporal","scale":{"type":"utc","domain":[{"year":2004,"month":10,"date":1,"utc":true},{"year":2006,"month":1,"date":1,"utc":true}]},
      "axis":{"orient":"bottom","title":null,"labels":false,"tickSize":49,"values":[{"year":2005,"month":1,"date":1,"utc":true}]}},
    "y":{"datum":42,"type":"quantitative","scale":{"type":"log","domain":[0.01,100],"nice":false},"axis":{"orient":"left","title":null,"labels":false,"tickSize":-10,"values":[0.01,0.1,1,10,100]}},
    "text":{"field":"site"}
   }},
  {"data":{"values":[{"date":"2005-06-01","value":1}]},"mark":{"type":"point","opacity":0},
   "encoding":{
    "x":{"field":"date","type":"temporal","scale":{"type":"utc","domain":[{"year":2004,"month":10,"date":1,"utc":true},{"year":2006,"month":1,"date":1,"utc":true}]},"axis":null},
    "y":{"field":"value","type":"quantitative","scale":{"type":"log","domain":[0.01,100],"nice":false},"axis":{"orient":"left","title":null,"labels":false,"tickSize":-6,"tickWidth":1.5,"values":[0.02,0.03,0.04,0.05,0.06,0.07,0.08,0.09,0.2,0.3,0.4,0.5,0.6,0.7,0.8,0.9,2,3,4,5,6,7,8,9,20,30,40,50,60,70,80,90]}}
   }},
  {"data":{"values":[{"date":"2005-06-01","value":1}]},"mark":{"type":"point","opacity":0},
   "encoding":{
    "x":{"field":"date","type":"temporal","scale":{"type":"utc","domain":[{"year":2004,"month":10,"date":1,"utc":true},{"year":2006,"month":1,"date":1,"utc":true}]},"axis":null},
    "y":{"field":"value","type":"quantitative","scale":{"type":"linear","domain":[0,2500],"nice":false,"zero":false},"axis":{"orient":"right","title":null,"labels":false,"tickSize":-10,"values":[0,500,1000,1500,2000,2500]}}
   }}
 ],
 "resolve":{"scale":{"y":"independent"},"axis":{"x":"independent","y":"independent"}}
},
{
 "width":996,"height":429,
 "layer":[
  {"data":{"name":"site4_streamflow"},"mark":{"type":"line","strokeWidth":2.2},
   "encoding":{
    "x":{"field":"date","type":"temporal","scale":{"type":"utc","domain":[{"year":2004,"month":10,"date":1,"utc":true},{"year":2006,"month":1,"date":1,"utc":true}]},
      "axis":{"orient":"bottom","title":null,"labels":false,"tickSize":-10,"values":[{"year":2004,"month":11,"date":1,"utc":true},{"year":2004,"month":12,"date":1,"utc":true},{"year":2005,"month":1,"date":1,"utc":true},{"year":2005,"month":2,"date":1,"utc":true},{"year":2005,"month":3,"date":1,"utc":true},{"year":2005,"month":4,"date":1,"utc":true},{"year":2005,"month":5,"date":1,"utc":true},{"year":2005,"month":6,"date":1,"utc":true},{"year":2005,"month":7,"date":1,"utc":true},{"year":2005,"month":8,"date":1,"utc":true},{"year":2005,"month":9,"date":1,"utc":true},{"year":2005,"month":10,"date":1,"utc":true},{"year":2005,"month":11,"date":1,"utc":true},{"year":2005,"month":12,"date":1,"utc":true}]}},
    "y":{"field":"value","type":"quantitative","scale":{"type":"log","domain":[0.01,100],"nice":false},"axis":{"orient":"left","title":"DAILY MEAN STREAMFLOW, IN CUBIC FEET PER SECOND","titleX":-98,"titleY":214.5,"titleAngle":270,"titleAlign":"center","titleBaseline":"middle","ticks":false,"labelPadding":14,"values":[0.01,0.1,1,10,100],"format":"~g"}},
    "color":{"datum":"Streamflow","type":"nominal","scale":{"domain":["Streamflow","Specific conductance"],"range":["#0072bc","#ed1c24"]},"legend":{"title":"EXPLANATION"}}
   }},
  {"data":{"name":"site4_conductance"},"mark":{"type":"line","strokeWidth":2.2},
   "encoding":{
    "x":{"field":"date","type":"temporal","scale":{"type":"utc","domain":[{"year":2004,"month":10,"date":1,"utc":true},{"year":2006,"month":1,"date":1,"utc":true}]},
      "axis":{"orient":"top","title":null,"labels":false,"tickSize":-10,"values":[{"year":2004,"month":11,"date":1,"utc":true},{"year":2004,"month":12,"date":1,"utc":true},{"year":2005,"month":1,"date":1,"utc":true},{"year":2005,"month":2,"date":1,"utc":true},{"year":2005,"month":3,"date":1,"utc":true},{"year":2005,"month":4,"date":1,"utc":true},{"year":2005,"month":5,"date":1,"utc":true},{"year":2005,"month":6,"date":1,"utc":true},{"year":2005,"month":7,"date":1,"utc":true},{"year":2005,"month":8,"date":1,"utc":true},{"year":2005,"month":9,"date":1,"utc":true},{"year":2005,"month":10,"date":1,"utc":true},{"year":2005,"month":11,"date":1,"utc":true},{"year":2005,"month":12,"date":1,"utc":true}]}},
    "y":{"field":"value","type":"quantitative","scale":{"type":"linear","domain":[0,400],"nice":false,"zero":false},"axis":{"orient":"right","title":"DAILY MEAN SPECIFIC CONDUCTANCE, IN MICROSIEMENS PER CENTIMETER AT 25° CELSIUS","titleX":108,"titleY":214.5,"titleAngle":270,"titleAlign":"center","titleBaseline":"middle","ticks":false,"labelPadding":14,"values":[0,100,200,300,400],"format":",d"}},
    "color":{"datum":"Specific conductance","type":"nominal","scale":{"domain":["Streamflow","Specific conductance"],"range":["#0072bc","#ed1c24"]},"legend":{"title":"EXPLANATION"}}
   }},
  {"data":{"values":[{"site":"Site 4"}]},"mark":{"type":"text","align":"left","baseline":"alphabetic"},
   "encoding":{
    "x":{"datum":{"year":2004,"month":10,"date":24,"utc":true},"type":"temporal","scale":{"type":"utc","domain":[{"year":2004,"month":10,"date":1,"utc":true},{"year":2006,"month":1,"date":1,"utc":true}]},
      "axis":{"orient":"bottom","title":null,"labels":false,"tickSize":49,"values":[{"year":2005,"month":1,"date":1,"utc":true}]}},
    "y":{"datum":42,"type":"quantitative","scale":{"type":"log","domain":[0.01,100],"nice":false},"axis":{"orient":"left","title":null,"labels":false,"tickSize":-10,"values":[0.01,0.1,1,10,100]}},
    "text":{"field":"site"}
   }},
  {"data":{"values":[{"date":"2005-06-01","value":1}]},"mark":{"type":"point","opacity":0},
   "encoding":{
    "x":{"field":"date","type":"temporal","scale":{"type":"utc","domain":[{"year":2004,"month":10,"date":1,"utc":true},{"year":2006,"month":1,"date":1,"utc":true}]},"axis":null},
    "y":{"field":"value","type":"quantitative","scale":{"type":"log","domain":[0.01,100],"nice":false},"axis":{"orient":"left","title":null,"labels":false,"tickSize":-6,"tickWidth":1.5,"values":[0.02,0.03,0.04,0.05,0.06,0.07,0.08,0.09,0.2,0.3,0.4,0.5,0.6,0.7,0.8,0.9,2,3,4,5,6,7,8,9,20,30,40,50,60,70,80,90]}}
   }},
  {"data":{"values":[{"date":"2005-06-01","value":1}]},"mark":{"type":"point","opacity":0},
   "encoding":{
    "x":{"field":"date","type":"temporal","scale":{"type":"utc","domain":[{"year":2004,"month":10,"date":1,"utc":true},{"year":2006,"month":1,"date":1,"utc":true}]},"axis":null},
    "y":{"field":"value","type":"quantitative","scale":{"type":"linear","domain":[0,400],"nice":false,"zero":false},"axis":{"orient":"right","title":null,"labels":false,"tickSize":-10,"values":[0,100,200,300,400]}}
   }}
 ],
 "resolve":{"scale":{"y":"independent"},"axis":{"x":"independent","y":"independent"}}
},
{
 "width":996,"height":429,
 "layer":[
  {"data":{"name":"site5_streamflow"},"mark":{"type":"line","strokeWidth":2.2},
   "encoding":{
    "x":{"field":"date","type":"temporal","scale":{"type":"utc","domain":[{"year":2004,"month":10,"date":1,"utc":true},{"year":2006,"month":1,"date":1,"utc":true}]},
      "axis":{"orient":"bottom","title":null,"labels":false,"tickSize":-10,"values":[{"year":2004,"month":11,"date":1,"utc":true},{"year":2004,"month":12,"date":1,"utc":true},{"year":2005,"month":1,"date":1,"utc":true},{"year":2005,"month":2,"date":1,"utc":true},{"year":2005,"month":3,"date":1,"utc":true},{"year":2005,"month":4,"date":1,"utc":true},{"year":2005,"month":5,"date":1,"utc":true},{"year":2005,"month":6,"date":1,"utc":true},{"year":2005,"month":7,"date":1,"utc":true},{"year":2005,"month":8,"date":1,"utc":true},{"year":2005,"month":9,"date":1,"utc":true},{"year":2005,"month":10,"date":1,"utc":true},{"year":2005,"month":11,"date":1,"utc":true},{"year":2005,"month":12,"date":1,"utc":true}]}},
    "y":{"field":"value","type":"quantitative","scale":{"type":"log","domain":[0.01,100],"nice":false},"axis":{"orient":"left","title":null,"ticks":false,"labelPadding":14,"values":[0.01,0.1,1,10,100],"format":"~g"}},
    "color":{"datum":"Streamflow","type":"nominal","scale":{"domain":["Streamflow","Specific conductance"],"range":["#0072bc","#ed1c24"]},"legend":{"title":"EXPLANATION"}}
   }},
  {"data":{"name":"site5_conductance"},"mark":{"type":"line","strokeWidth":2.2},
   "encoding":{
    "x":{"field":"date","type":"temporal","scale":{"type":"utc","domain":[{"year":2004,"month":10,"date":1,"utc":true},{"year":2006,"month":1,"date":1,"utc":true}]},
      "axis":{"orient":"top","title":null,"labels":false,"tickSize":-10,"values":[{"year":2004,"month":11,"date":1,"utc":true},{"year":2004,"month":12,"date":1,"utc":true},{"year":2005,"month":1,"date":1,"utc":true},{"year":2005,"month":2,"date":1,"utc":true},{"year":2005,"month":3,"date":1,"utc":true},{"year":2005,"month":4,"date":1,"utc":true},{"year":2005,"month":5,"date":1,"utc":true},{"year":2005,"month":6,"date":1,"utc":true},{"year":2005,"month":7,"date":1,"utc":true},{"year":2005,"month":8,"date":1,"utc":true},{"year":2005,"month":9,"date":1,"utc":true},{"year":2005,"month":10,"date":1,"utc":true},{"year":2005,"month":11,"date":1,"utc":true},{"year":2005,"month":12,"date":1,"utc":true}]}},
    "y":{"field":"value","type":"quantitative","scale":{"type":"linear","domain":[0,400],"nice":false,"zero":false},"axis":{"orient":"right","title":null,"ticks":false,"labelPadding":14,"values":[0,100,200,300,400],"format":",d"}},
    "color":{"datum":"Specific conductance","type":"nominal","scale":{"domain":["Streamflow","Specific conductance"],"range":["#0072bc","#ed1c24"]},"legend":{"title":"EXPLANATION"}}
   }},
  {"data":{"values":[{"site":"Site 5"}]},"mark":{"type":"text","align":"left","baseline":"alphabetic"},
   "encoding":{
    "x":{"datum":{"year":2004,"month":10,"date":24,"utc":true},"type":"temporal","scale":{"type":"utc","domain":[{"year":2004,"month":10,"date":1,"utc":true},{"year":2006,"month":1,"date":1,"utc":true}]},
      "axis":{"orient":"bottom","title":null,"labels":false,"tickSize":49,"values":[{"year":2005,"month":1,"date":1,"utc":true},{"year":2006,"month":1,"date":1,"utc":true}]}},
    "y":{"datum":42,"type":"quantitative","scale":{"type":"log","domain":[0.01,100],"nice":false},"axis":{"orient":"left","title":null,"labels":false,"tickSize":-10,"values":[0.01,0.1,1,10,100]}},
    "text":{"field":"site"}
   }},
  {"data":{"values":[{"date":"2005-06-01","value":1}]},"mark":{"type":"point","opacity":0},
   "encoding":{
    "x":{"field":"date","type":"temporal","scale":{"type":"utc","domain":[{"year":2004,"month":10,"date":1,"utc":true},{"year":2006,"month":1,"date":1,"utc":true}]},
      "axis":{"orient":"bottom","title":null,"ticks":false,"labelPadding":27,"labelBaseline":"alphabetic","labelFontSize":19,"labelExpr":"['Jan','Feb','Mar','Apr','May','June','July','Aug','Sep','Oct','Nov','Dec'][utcmonth(datum.value)]","values":[{"year":2004,"month":10,"date":16,"utc":true},{"year":2004,"month":11,"date":16,"utc":true},{"year":2004,"month":12,"date":16,"utc":true},{"year":2005,"month":1,"date":16,"utc":true},{"year":2005,"month":2,"date":15,"utc":true},{"year":2005,"month":3,"date":16,"utc":true},{"year":2005,"month":4,"date":16,"utc":true},{"year":2005,"month":5,"date":16,"utc":true},{"year":2005,"month":6,"date":16,"utc":true},{"year":2005,"month":7,"date":16,"utc":true},{"year":2005,"month":8,"date":16,"utc":true},{"year":2005,"month":9,"date":16,"utc":true},{"year":2005,"month":10,"date":16,"utc":true},{"year":2005,"month":11,"date":16,"utc":true},{"year":2005,"month":12,"date":16,"utc":true}]}},
    "y":{"field":"value","type":"quantitative","scale":{"type":"log","domain":[0.01,100],"nice":false},"axis":{"orient":"left","title":null,"labels":false,"tickSize":-6,"tickWidth":1.5,"values":[0.02,0.03,0.04,0.05,0.06,0.07,0.08,0.09,0.2,0.3,0.4,0.5,0.6,0.7,0.8,0.9,2,3,4,5,6,7,8,9,20,30,40,50,60,70,80,90]}}
   }},
  {"data":{"values":[{"date":"2005-06-01","value":1}]},"mark":{"type":"point","opacity":0},
   "encoding":{
    "x":{"field":"date","type":"temporal","scale":{"type":"utc","domain":[{"year":2004,"month":10,"date":1,"utc":true},{"year":2006,"month":1,"date":1,"utc":true}]},
      "axis":{"orient":"bottom","title":"MONTH AND YEAR","titleY":81,"titleBaseline":"alphabetic","titleFontSize":19.6,"ticks":false,"labelPadding":54,"labelBaseline":"alphabetic","labelFontSize":19,"labelExpr":"utcFormat(datum.value, '%Y')","values":[{"year":2004,"month":11,"date":16,"utc":true},{"year":2005,"month":7,"date":1,"utc":true}]}},
    "y":{"field":"value","type":"quantitative","scale":{"type":"linear","domain":[0,400],"nice":false,"zero":false},"axis":{"orient":"right","title":null,"labels":false,"tickSize":-10,"values":[0,100,200,300,400]}}
   }}
 ],
 "resolve":{"scale":{"y":"independent"},"axis":{"x":"independent","y":"independent"}}
}
]
}
